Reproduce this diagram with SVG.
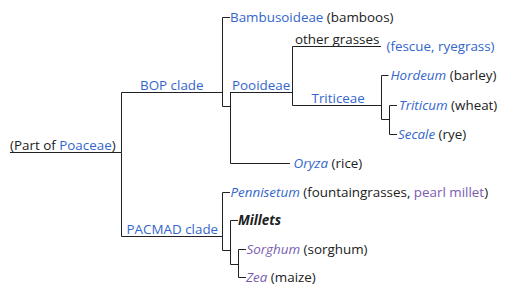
<svg xmlns="http://www.w3.org/2000/svg" width="527" height="299" viewBox="0 0 527 299">
<style>
text{font-family:"Open Sans","Noto Sans","DejaVu Sans",sans-serif;font-size:13.4px;fill:#202122}
.l{fill:#3366cc}
.v{fill:#795cb2}
.i{font-style:italic}
.b{font-weight:bold}
.c{fill:none;stroke:#202122;stroke-width:1}
</style>
<rect width="527" height="299" fill="#ffffff"/>
<g id="connectors" class="c">
<path d="M10 152.5H121.5V92.5H222.5M121.5 152.5V236.5H222.5"/>
<path d="M230 17.5H222.5V106.5H230.5"/>
<path d="M230.5 92V163.5H290M230.5 92.5H292.5"/>
<path d="M292.5 46.5V105.5M292.5 46.5H381M292.5 105.5H381.5"/>
<path d="M388.5 75.5H381.5V119.5H389.5"/>
<path d="M397 105.5H389.5V134.5H397"/>
<path d="M230 192.5H222.5V250.5H230.5"/>
<path d="M238 220.5H230.5V264.5H238.5"/>
<path d="M246 249.5H238.5V277.5H246"/>
</g>
<g id="root"><text x="10" y="150">(Part of <tspan class="l">Poaceae</tspan>)</text></g>
<g id="bop"><text x="140" y="90" class="l">BOP clade</text></g>
<g id="pacmad"><text x="126.5" y="234" class="l">PACMAD clade</text></g>
<g id="bambusoideae"><text x="230" y="22"><tspan class="l">Bambusoideae</tspan> (bamboos)</text></g>
<g id="pooideae"><text x="232" y="89.5" class="l">Pooideae</text></g>
<g id="other-grasses"><text x="295" y="44">other grasses</text></g>
<g id="fescue"><text x="386.5" y="51" class="l">(fescue, ryegrass)</text></g>
<g id="triticeae"><text x="311.5" y="103" class="l">Triticeae</text></g>
<g id="hordeum"><text x="390.5" y="80"><tspan class="l i">Hordeum</tspan> (barley)</text></g>
<g id="triticum"><text x="399" y="110"><tspan class="l i">Triticum</tspan> (wheat)</text></g>
<g id="secale"><text x="398" y="139"><tspan class="l i">Secale</tspan> (rye)</text></g>
<g id="oryza"><text x="293.5" y="168"><tspan class="l i">Oryza</tspan> (rice)</text></g>
<g id="pennisetum"><text x="230.5" y="196.5"><tspan class="l i">Pennisetum</tspan> (fountaingrasses, <tspan class="v">pearl millet</tspan>)</text></g>
<g id="millets"><text x="238" y="225" class="i b">Millets</text></g>
<g id="sorghum"><text x="246.5" y="254"><tspan class="v i">Sorghum</tspan> (sorghum)</text></g>
<g id="zea"><text x="246" y="282"><tspan class="v i">Zea</tspan> (maize)</text></g>
</svg>
